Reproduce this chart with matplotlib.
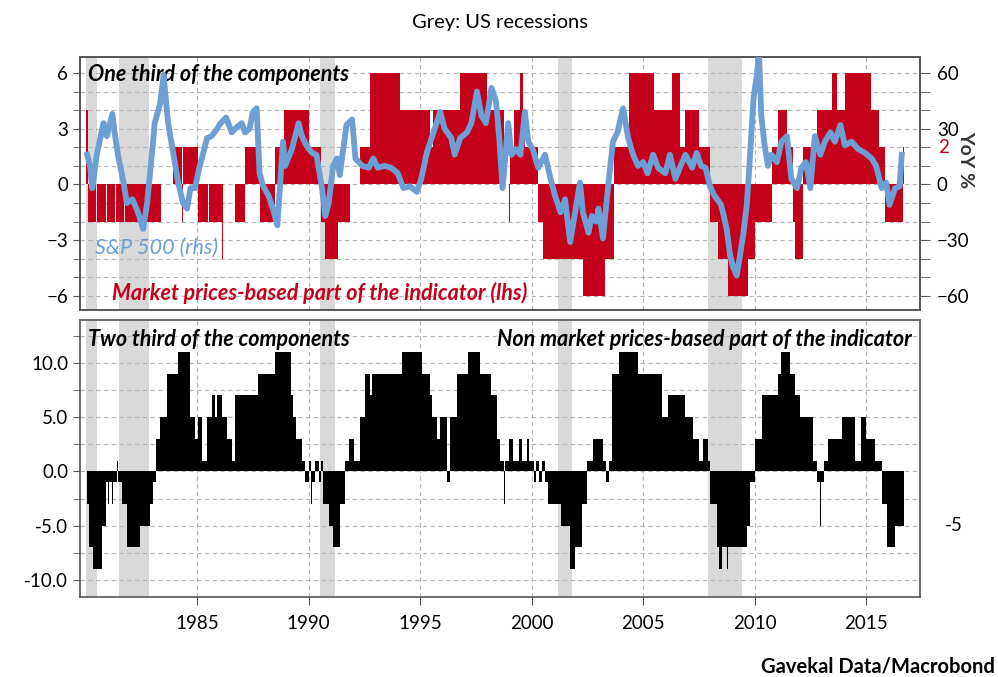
import matplotlib.pyplot as plt
from matplotlib.ticker import MultipleLocator, FixedLocator, FormatStrFormatter
import matplotlib.transforms as mtransforms

# フォント設定
plt.rcParams['font.family'] = ['Lato', 'DejaVu Sans']
plt.rcParams['font.size'] = 12

# US recessions (grey bands)
rec_start = [1980.0, 1981.5, 1990.5, 2001.17, 2007.92]
rec_end = [1980.5, 1982.83, 1991.17, 2001.83, 2009.42]

# Market prices-based part (lhs), step values from each change point
red_years = [1980.0, 1980.12, 1980.45, 1980.5, 1980.9, 1980.95, 1981.3, 1981.35, 1981.7, 1981.75,
             1983.4, 1983.9, 1984.3, 1984.35, 1985.05, 1985.5, 1985.55, 1986.1, 1986.15, 1986.7,
             1987.15, 1987.8, 1988.5, 1988.9, 1990.0, 1990.55, 1990.75, 1991.3, 1991.85, 1992.3,
             1992.75, 1994.1, 1995.45, 1995.6, 1995.9, 1996.8, 1998.0, 1998.75, 1999.0, 1999.05,
             1999.2, 1999.5, 1999.6, 1999.7, 2000.3, 2000.5, 2002.3, 2003.3, 2003.7, 2004.35,
             2005.5, 2006.3, 2006.65, 2006.9, 2007.5, 2008.0, 2008.35, 2008.8, 2009.7, 2010.0,
             2010.8, 2011.05, 2011.45, 2011.7, 2011.8, 2012.15, 2012.8, 2013.45, 2013.7, 2014.05,
             2015.2, 2015.6, 2015.85, 2016.65]
red_levels = [4, -2, 0, -2, 0, -2, 0, -2, 0, -2,
              0, 2, -2, 2, -2, 0, -2, -4, 0, -2,
              2, -2, 2, 4, 2, -2, -4, -2, 0, 2,
              6, 4, 2, 4, 4, 6, 4, 0, -2, 2,
              4, 6, 4, 2, -2, -4, -6, -4, 2, 6,
              4, 6, 2, 4, 2, -2, -4, -6, -4, -2,
              2, 4, 2, -2, -4, 2, 4, 6, 4, 6,
              4, 2, -2, 2]
red_end = 2016.72

# S&P 500 YoY % (rhs)
blue_years = [1980.07, 1980.2, 1980.3, 1980.5, 1980.8, 1980.95, 1981.2, 1981.3, 1981.45, 1981.7,
              1981.85, 1982.1, 1982.35, 1982.58, 1982.75, 1982.97, 1983.1, 1983.35, 1983.5, 1983.55,
              1983.7, 1983.9, 1984.15, 1984.37, 1984.55, 1984.7, 1984.9, 1985.1, 1985.45, 1985.65,
              1985.9, 1986.05, 1986.3, 1986.55, 1986.8, 1987.0, 1987.15, 1987.35, 1987.5, 1987.67,
              1987.8, 1987.97, 1988.2, 1988.4, 1988.6, 1988.75, 1988.85, 1988.95, 1989.25, 1989.55,
              1989.7, 1989.9, 1990.15, 1990.35, 1990.6, 1990.75, 1990.9, 1991.1, 1991.27, 1991.4,
              1991.55, 1991.7, 1991.95, 1992.1, 1992.4, 1992.7, 1992.9, 1993.1, 1993.4, 1993.7,
              1994.0, 1994.25, 1994.55, 1994.85, 1995.05, 1995.3, 1995.6, 1995.9, 1996.1, 1996.4,
              1996.55, 1996.8, 1997.1, 1997.3, 1997.55, 1997.75, 1997.95, 1998.2, 1998.4, 1998.55,
              1998.7, 1998.95, 1999.1, 1999.3, 1999.5, 1999.7, 1999.85, 2000.05, 2000.3, 2000.6,
              2000.85, 2001.05, 2001.3, 2001.5, 2001.73, 2001.95, 2002.17, 2002.3, 2002.55, 2002.7,
              2002.9, 2003.0, 2003.2, 2003.45, 2003.65, 2003.85, 2004.1, 2004.33, 2004.55, 2004.77,
              2005.0, 2005.2, 2005.45, 2005.67, 2006.0, 2006.2, 2006.45, 2006.65, 2006.9, 2007.2,
              2007.4, 2007.6, 2007.8, 2008.0, 2008.2, 2008.5, 2008.75, 2008.9, 2009.05, 2009.2,
              2009.35, 2009.5, 2009.65, 2009.8, 2009.95, 2010.1, 2010.2, 2010.3, 2010.45, 2010.6,
              2010.75, 2011.0, 2011.2, 2011.45, 2011.65, 2011.9, 2012.1, 2012.3, 2012.5, 2012.7,
              2012.95, 2013.15, 2013.4, 2013.6, 2013.85, 2014.05, 2014.35, 2014.65, 2014.95, 2015.25,
              2015.45, 2015.7, 2015.9, 2016.05, 2016.3, 2016.5, 2016.6]
blue_values = [16, 10, -2, 16, 33, 26, 38, 28, 16, 1,
               -10, -8, -15, -24, -11, 16, 33, 44, 59, 52,
               33, 19, 1, -10, -13, -2, -2, 9, 25, 26,
               30, 33, 36, 28, 31, 33, 28, 30, 39, 41,
               6, -1, -6, -13, -22, 5, 23, 10, 19, 33,
               26, 21, 17, 16, -2, -17, -10, 10, 14, 5,
               19, 32, 35, 14, 10, 9, 14, 9, 10, 9,
               6, -2, -1, -4, 3, 17, 28, 39, 30, 25,
               16, 25, 28, 33, 50, 37, 33, 52, 45, 25,
               -2, 33, 16, 19, 16, 39, 23, 19, 9, 16,
               3, -6, -15, -8, -31, -15, 1, -15, -26, -17,
               -20, -13, -29, 1, 23, 28, 41, 25, 16, 10,
               12, 6, 16, 9, 6, 16, 3, 9, 16, 9,
               17, 10, 9, -1, -6, -11, -24, -38, -45, -49,
               -38, -26, -11, 16, 46, 59, 70, 37, 21, 10,
               16, 12, 23, 26, 3, -2, 9, 12, -2, 26,
               16, 23, 28, 23, 32, 21, 23, 19, 17, 14,
               10, -2, 1, -11, -2, -1, 16]

# Non market prices-based part, step values from each change point
black_years = [1980.05, 1980.15, 1980.35, 1980.75, 1980.9, 1981.0, 1981.05, 1981.2, 1981.25, 1981.4,
               1981.45, 1981.65, 1981.85, 1982.45, 1982.9, 1983.0, 1983.15, 1983.35, 1983.65, 1984.15,
               1984.7, 1984.9, 1985.05, 1985.2, 1985.45, 1985.65, 1985.8, 1985.9, 1986.1, 1986.35,
               1986.55, 1986.7, 1987.25, 1987.75, 1988.5, 1989.2, 1989.3, 1989.45, 1989.7, 1989.85,
               1990.0, 1990.1, 1990.15, 1990.3, 1990.45, 1990.55, 1990.65, 1990.9, 1991.1, 1991.4,
               1991.65, 1991.8, 1992.05, 1992.3, 1992.55, 1992.75, 1992.85, 1994.2, 1995.1, 1995.45,
               1995.55, 1995.75, 1995.9, 1996.2, 1996.35, 1996.65, 1997.15, 1997.7, 1998.2, 1998.45,
               1998.6, 1998.75, 1998.8, 1999.0, 1999.15, 1999.45, 1999.55, 1999.8, 1999.9, 2000.1,
               2000.2, 2000.35, 2000.45, 2000.6, 2000.75, 2001.3, 2001.7, 2001.95, 2002.25, 2002.5,
               2002.75, 2003.2, 2003.35, 2003.45, 2003.6, 2003.9, 2004.75, 2005.85, 2006.1, 2006.9,
               2007.25, 2007.5, 2007.7, 2007.9, 2008.0, 2008.3, 2008.4, 2008.55, 2008.75, 2008.8,
               2009.65, 2009.8, 2010.0, 2010.35, 2011.05, 2011.2, 2011.6, 2011.8, 2012.05, 2012.6,
               2012.8, 2012.95, 2013.0, 2013.1, 2013.3, 2013.9, 2014.5, 2014.75, 2015.0, 2015.4,
               2015.7, 2015.95, 2016.3]
black_levels = [-3, -7, -9, -5, -1, -3, -1, -3, -1, 1,
                -1, -3, -7, -5, -3, -1, 3, 5, 9, 11,
                5, 3, 5, 1, 5, 7, 5, 7, 5, 3,
                1, 7, 7, 9, 11, 7, 5, 3, 1, -1,
                1, -3, -1, 1, -1, 1, -3, -5, -7, -3,
                1, 3, 1, 5, 9, 7, 9, 11, 9, 7,
                5, 3, 5, -1, 5, 9, 11, 9, 7, 3,
                1, -3, 1, 3, 1, 3, 1, 3, 1, -1,
                1, -1, 1, -1, -3, -5, -9, -7, -3, 1,
                3, 1, -1, 1, 9, 11, 9, 5, 7, 5,
                3, 1, 3, 1, -3, -7, -9, -7, -9, -7,
                -5, -1, 3, 7, 9, 11, 9, 7, 5, 1,
                -1, -5, -1, 1, 3, 5, 1, 5, 3, 1,
                -3, -7, -5]
black_end = 2016.72

RED = '#c4001a'
BLUE = '#6e9fd4'
GRID = '#b5b5b5'
EDGE = '#555555'

fig = plt.figure(figsize=(9.98, 6.77), dpi=100)
ax1 = fig.add_axes([0.0802, 0.5421, 0.8417, 0.3737])
ax2 = fig.add_axes([0.0802, 0.1182, 0.8417, 0.4092])

for ax in (ax1, ax2):
    for s, e in zip(rec_start, rec_end):
        ax.axvspan(s, e, color='#d9d9d9', lw=0, zorder=0)
    ax.set_xlim(1979.75, 2017.42)
    ax.xaxis.set_major_locator(FixedLocator(range(1985, 2016, 5)))
    ax.set_axisbelow(True)
    ax.xaxis.grid(True, which='major', ls=(0, (4, 3)), color=GRID, lw=0.8)
    ax.yaxis.grid(True, which='both', ls=(0, (4, 3)), color=GRID, lw=0.8)
    for sp in ax.spines.values():
        sp.set_color(EDGE)
        sp.set_linewidth(1.2)
    ax.tick_params(axis='y', which='both', direction='out', length=5, color=EDGE, labelsize=13.5)

# 上段: market prices-based part + S&P 500
ax1.stairs(red_levels, red_years + [red_end], baseline=0, fill=True, color=RED, lw=0, zorder=2)
ax1.set_ylim(-6.76, 6.86)
ax1.yaxis.set_major_locator(FixedLocator([-6, -3, 0, 3, 6]))
ax1.yaxis.set_minor_locator(MultipleLocator(1))
ax1.tick_params(axis='x', length=0, labelbottom=False)

ax1r = ax1.twinx()
ax1r.plot(blue_years, blue_values, color=BLUE, lw=4.2, solid_joinstyle='round', zorder=3)
ax1r.set_ylim(-67.6, 68.6)
ax1r.yaxis.set_major_locator(FixedLocator([-60, -30, 0, 30, 60]))
ax1r.yaxis.set_minor_locator(MultipleLocator(10))
ax1r.tick_params(axis='y', which='both', direction='out', length=7, color=EDGE, labelsize=13.5, pad=5)
for sp in ax1r.spines.values():
    sp.set_color(EDGE)
    sp.set_linewidth(1.2)
fig.text(0.968, 0.765, 'YoY %', rotation=270, ha='center', va='center', fontsize=14, fontweight='bold', color='#333333')

trans1 = mtransforms.blended_transform_factory(ax1.transAxes, ax1.transData)
ax1.text(1.022, 2, '2', transform=trans1, color=RED, fontsize=13.5, ha='left', va='center')

ax1.text(0.0095, 0.93, 'One third of the components', transform=ax1.transAxes,
         fontsize=15.5, fontweight='bold', style='italic', va='center', ha='left', zorder=5)
ax1.text(0.018, 0.245, 'S&P 500 (rhs)', transform=ax1.transAxes,
         fontsize=15.5, style='italic', color=BLUE, va='center', ha='left', zorder=5)
ax1.text(0.038, 0.067, 'Market prices-based part of the indicator (lhs)', transform=ax1.transAxes,
         fontsize=15.5, fontweight='bold', style='italic', color=RED, va='center', ha='left', zorder=5)

# 下段: non market prices-based part
ax2.stairs(black_levels, black_years + [black_end], baseline=0, fill=True, color='black', lw=0, zorder=2)
ax2.set_ylim(-11.56, 13.95)
ax2.yaxis.set_major_locator(FixedLocator([-10, -5, 0, 5, 10]))
ax2.yaxis.set_minor_locator(MultipleLocator(2.5))
ax2.yaxis.set_major_formatter(FormatStrFormatter('%.1f'))
ax2.tick_params(axis='x', direction='out', length=6, color=EDGE, labelsize=13.5, pad=7)

trans2 = mtransforms.blended_transform_factory(ax2.transAxes, ax2.transData)
ax2.text(1.03, -5, '-5', transform=trans2, color='black', fontsize=13.5, ha='left', va='center')

ax2.text(0.0095, 0.928, 'Two third of the components', transform=ax2.transAxes,
         fontsize=15.5, fontweight='bold', style='italic', va='center', ha='left', zorder=5)
ax2.text(0.990, 0.928, 'Non market prices-based part of the indicator', transform=ax2.transAxes,
         fontsize=15.5, fontweight='bold', style='italic', va='center', ha='right', zorder=5)

fig.text(0.501, 0.967, 'Grey: US recessions', ha='center', va='center', fontsize=14.5)
fig.text(0.997, 0.016, 'Gavekal Data/Macrobond', ha='right', va='center', fontsize=14.5, fontweight='bold')

plt.savefig('out.png', dpi=100)
